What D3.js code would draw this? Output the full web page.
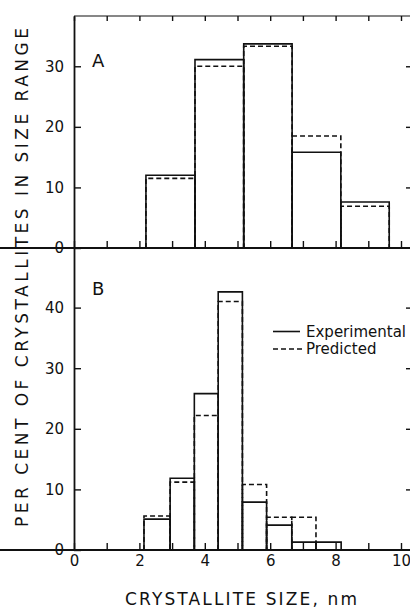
<!DOCTYPE html>
<html>
<head>
<meta charset="utf-8">
<script src="https://cdn.jsdelivr.net/npm/d3@7"></script>
<style>
  html, body { margin: 0; padding: 0; background: #fff; }
  svg text { font-family: "DejaVu Sans", sans-serif; fill: #111; }
</style>
</head>
<body>
<script>
'use strict';

const WIDTH  = 410;
const HEIGHT = 608;

// panel A : bin edges (nm) and per cent of crystallites
const edgesA        = [2.2, 3.7, 5.19, 6.67, 8.16, 9.64];
const experimentalA = [12.0, 31.1, 33.7, 15.8, 7.6];
const predictedA    = [11.5, 30.0, 33.3, 18.5, 6.9];

// panel B
const edgesB        = [2.14, 2.94, 3.68, 4.41, 5.15, 5.89, 6.66, 7.40, 8.17];
const experimentalB = [5.1, 11.85, 25.8, 42.6, 7.9, 4.1, 1.3, 1.3];
const predictedB    = [5.6, 11.2, 22.2, 41.0, 10.8, 5.4, 5.4, 0];

// ticks
const xTicks  = [0, 1, 2, 3, 4, 5, 6, 7, 8, 9, 10];
const yTicksA = [0, 10, 20, 30];
const yTicksB = [0, 10, 20, 30, 40];

const svg = d3.select('body').append('svg')
  .attr('width', WIDTH)
  .attr('height', HEIGHT);

const x  = d3.scaleLinear().domain([0, 10]).range([74, 401]);
const yA = d3.scaleLinear().domain([0, 38.3]).range([248, 16]);
const yB = d3.scaleLinear().domain([0, 50]).range([550, 247]);

const RIGHT = 413; // right frame sits just outside the picture

function styleAxis(g, w) {
  g.selectAll('path.domain').attr('stroke', '#111').attr('stroke-width', w);
  g.selectAll('.tick line').attr('stroke', '#111').attr('stroke-width', 1.4);
  g.selectAll('.tick text').style('font-size', '15px').attr('fill', '#111');
}

// frame / axes
function panel(y, ticks, showX) {
  svg.append('g')
    .attr('transform', `translate(${x(0)},0)`)
    .call(d3.axisLeft(y).tickValues(ticks).tickSizeInner(-7).tickSizeOuter(0).tickPadding(10))
    .call(g => styleAxis(g, 1.8));

  svg.append('g')
    .attr('transform', `translate(${RIGHT},0)`)
    .call(d3.axisRight(y).tickValues(ticks.filter(d => d > 0)).tickSizeInner(-7).tickSizeOuter(0).tickFormat(''))
    .call(g => styleAxis(g, 1.8));

  svg.append('g')
    .attr('transform', `translate(0,${y(0)})`)
    .call(d3.axisBottom(x).tickValues(xTicks).tickSizeInner(-7).tickSizeOuter(0).tickPadding(5)
      .tickFormat(d => showX && d % 2 === 0 ? d : ''))
    .call(g => g.select('path.domain').attr('d', `M0,0H${RIGHT}`))
    .call(g => styleAxis(g, 1.8));
}

panel(yA, yTicksA, false);
panel(yB, yTicksB, true);

// top frame
svg.append('g')
  .attr('transform', `translate(0,${yA.range()[1]})`)
  .call(d3.axisTop(x).tickValues(xTicks).tickSizeInner(-5).tickSizeOuter(0).tickFormat(''))
  .call(g => g.select('path.domain').attr('d', `M${x(0)},0H${RIGHT}`))
  .call(g => styleAxis(g, 1.1));

// histogram outlines
function bins(edges, vals, y, dashed) {
  svg.append('g')
    .selectAll('path')
    .data(vals.map((v, i) => ({x0: edges[i], x1: edges[i + 1], v})).filter(d => d.v > 0))
    .enter().append('path')
      .attr('d', d => `M${x(d.x0)},${y(0)}V${y(d.v)}H${x(d.x1)}V${y(0)}`)
      .attr('fill', 'none')
      .attr('stroke', '#111')
      .attr('stroke-width', 1.6)
      .attr('stroke-dasharray', dashed ? '5,3' : null);
}

bins(edgesA, predictedA, yA, true);
bins(edgesA, experimentalA, yA, false);
bins(edgesB, predictedB, yB, true);
bins(edgesB, experimentalB, yB, false);

// panel letters
svg.append('text').attr('x', 92).attr('y', 67).style('font-size', '18px').text('A');
svg.append('text').attr('x', 92).attr('y', 295).style('font-size', '18px').text('B');

// legend
const legend = svg.append('g');
legend.append('line')
  .attr('x1', 273).attr('x2', 300).attr('y1', 331.5).attr('y2', 331.5)
  .attr('stroke', '#111').attr('stroke-width', 1.6);
legend.append('line')
  .attr('x1', 273).attr('x2', 302).attr('y1', 349).attr('y2', 349)
  .attr('stroke', '#111').attr('stroke-width', 1.6).attr('stroke-dasharray', '5,3');
legend.append('text').attr('x', 306).attr('y', 337).style('font-size', '15px').text('Experimental');
legend.append('text').attr('x', 306).attr('y', 354).style('font-size', '15px').text('Predicted');

// axis titles
svg.append('text')
  .attr('x', 125).attr('y', 605)
  .attr('textLength', 232).attr('lengthAdjust', 'spacing')
  .style('font-size', '17px')
  .text('CRYSTALLITE SIZE, nm');

svg.append('text')
  .attr('transform', 'translate(28,527)rotate(-90)')
  .attr('textLength', 499).attr('lengthAdjust', 'spacing')
  .style('font-size', '17px')
  .text('PER CENT OF CRYSTALLITES IN SIZE RANGE');
</script>
</body>
</html>
